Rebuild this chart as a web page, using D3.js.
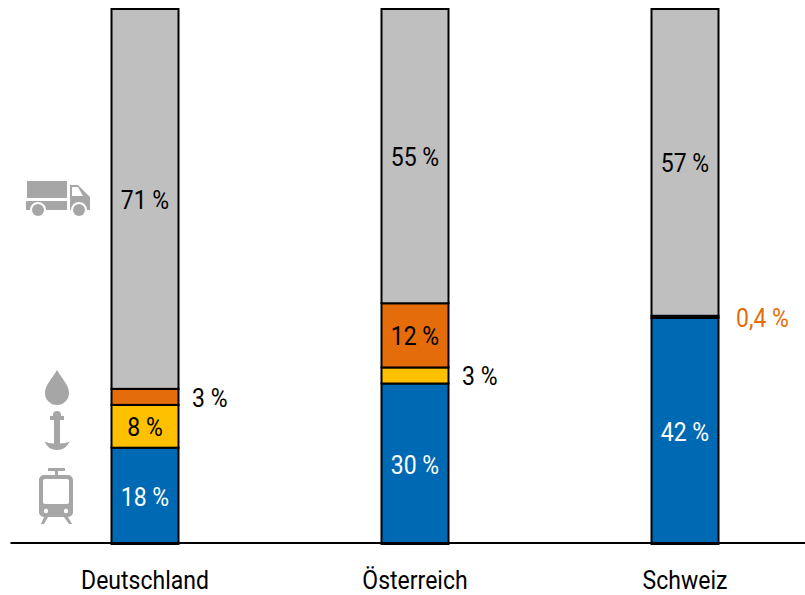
<!DOCTYPE html>
<html>
<head>
<meta charset="utf-8">
<script src="https://d3js.org/d3.v7.min.js"></script>
<style>
  body { margin: 0; background: #fff; }
  svg { display: block; }
  text { font-family: Roboto, sans-serif; font-size: 25px; }
</style>
</head>
<body>
<svg width="805" height="595"></svg>
<script>
const countries = ["Deutschland", "Österreich", "Schweiz"];
const modes = ["schiene", "wasser", "pipeline", "strasse"];

// share per mode, in percent
const schiene = [18, 30, 42];
const wasser = [8, 3, 0];
const pipeline = [3, 12, 0.4];
const strasse = [71, 55, 57];

const values = { schiene, wasser, pipeline, strasse };
const colors = { schiene: "#0069b4", wasser: "#ffc000", pipeline: "#e46c0a", strasse: "#bfbfbf" };

const rows = countries.map((c, i) => {
  const r = { country: c };
  modes.forEach(m => r[m] = values[m][i]);
  return r;
});

const svg = d3.select("svg");
const baseline = 544, chartTop = 9, barWidth = 67;

const x = d3.scaleBand().domain(countries).range([10, 820]);
// bars all fill the full height, Schweiz adds up to a bit under 100
const y = d3.scaleLinear().domain([0, 1]).range([baseline, chartTop]);

const stack = d3.stack().keys(modes).offset(d3.stackOffsetExpand);
const series = stack(rows);

const layers = svg.selectAll("g.layer")
  .data(series)
  .join("g")
  .attr("class", "layer")
  .attr("fill", d => colors[d.key]);

layers.selectAll("rect")
  .data(d => d.filter(p => p[1] > p[0]))
  .join("rect")
  .attr("x", d => x(d.data.country) + x.bandwidth() / 2 - barWidth / 2)
  .attr("width", barWidth)
  .attr("y", d => y(d[1]))
  .attr("height", d => y(d[0]) - y(d[1]))
  .attr("stroke", "#000")
  .attr("stroke-width", 2);

// value labels, the thin segments get theirs next to the bar
const condensed = (sel, px, py) => sel.attr("transform", `translate(${px},${py}) scale(0.92,1)`);

layers.each(function(s) {
  s.filter(p => p[1] > p[0]).forEach(p => {
    const v = p.data[s.key];
    const small = v <= 3;
    const cx = x(p.data.country) + x.bandwidth() / 2;
    const t = svg.append("text")
      .text(String(v).replace(".", ",") + " %")
      .attr("dy", "0.4em")
      .attr("text-anchor", small ? "start" : "middle")
      .attr("fill", v < 1 ? "#e46c0a" : s.key === "schiene" ? "#fff" : "#000");
    condensed(t, small ? cx + (v < 1 ? 51 : 47) : cx, y((p[0] + p[1]) / 2));
  });
});

// x axis
const axis = svg.append("g")
  .attr("transform", `translate(0,${baseline - 1.5})`)
  .call(d3.axisBottom(x).tickSize(0).tickPadding(0));
axis.select(".domain").attr("stroke", "#000").attr("stroke-width", 2);
axis.selectAll(".tick")
  .each(function() {
    d3.select(this).select("text")
      .attr("y", 38)
      .attr("dy", "0.36em")
      .attr("fill", "#000")
      .style("font-size", "25px")
      .style("font-family", "Roboto, sans-serif")
      .attr("transform", "scale(0.92,1)");
  });

// icons on the left
const grey = "#a6a6a6";
const truck = svg.append("g").attr("fill", grey).attr("transform", "translate(26,181)");
truck.append("rect").attr("x", 1).attr("width", 40).attr("height", 17);
truck.append("path").attr("d", "M0 20H41V29H20A8 8 0 0 0 4 29H0Z");
truck.append("path").attr("fill-rule", "evenodd")
  .attr("d", "M44 4H52L64 16V29H61A8 8 0 0 0 45 29H44ZM46 6V15H57L52 6Z");
truck.append("circle").attr("cx", 12).attr("cy", 29).attr("r", 6);
truck.append("circle").attr("cx", 53).attr("cy", 29).attr("r", 6);

svg.append("path").attr("fill", grey)
  .attr("d", "M57 370C52 379 45 385 45 393A12 12 0 0 0 69 393C69 385 62 379 57 370Z");

const anchor = svg.append("g").attr("fill", grey);
anchor.append("circle").attr("cx", 57).attr("cy", 415).attr("r", 4);
anchor.append("rect").attr("x", 50).attr("y", 416).attr("width", 14).attr("height", 4);
anchor.append("path").attr("d", "M54 418H60V443.5Q66 443.5 69.5 441.5Q66 450 57 450Q48 450 44.5 441.5Q48 443.5 54 443.5Z");

const tram = svg.append("g").attr("fill", grey).attr("transform", "translate(39,468)");
tram.append("rect").attr("x", 9).attr("width", 17).attr("height", 3);
tram.append("rect").attr("x", 16).attr("width", 3).attr("height", 9);
tram.append("path").attr("fill-rule", "evenodd")
  .attr("d", "M5 7H29A5 5 0 0 1 34 12V44A5 5 0 0 1 29 49H5A5 5 0 0 1 0 44V12A5 5 0 0 1 5 7ZM6 11A2 2 0 0 0 4 13V34A2 2 0 0 0 6 36H28A2 2 0 0 0 30 34V13A2 2 0 0 0 28 11Z");
tram.append("path").attr("d", "M5 49H9L5 56H2ZM25 49H29L33 56H30Z");
tram.selectAll("circle.lamp").data([7, 27]).join("circle").attr("class", "lamp")
  .attr("cx", d => d).attr("cy", 43).attr("r", 2.2).attr("fill", "#fff");
</script>
</body>
</html>
